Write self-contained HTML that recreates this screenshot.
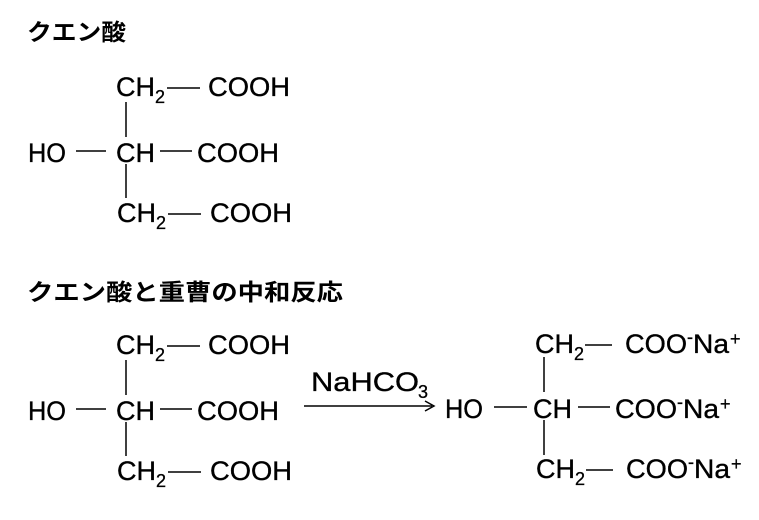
<!DOCTYPE html>
<html><head><meta charset="utf-8"><style>
html,body{margin:0;padding:0;background:#fff;}
svg{display:block;}
text{font-family:"Liberation Sans","Noto Sans CJK JP",sans-serif;fill:#000;}
.t{font-weight:bold;font-size:23px;}
.m{font-size:27px;stroke:#000;stroke-width:0.35px;}
.s{font-size:18px;stroke:#000;stroke-width:0.3px;}
</style></head><body>
<svg width="759" height="520" viewBox="0 0 759 520" xmlns="http://www.w3.org/2000/svg">
<text class="t" x="27" y="40" textLength="99" lengthAdjust="spacingAndGlyphs">クエン酸</text>
<text class="t" x="27" y="300" textLength="316" lengthAdjust="spacingAndGlyphs">クエン酸と重曹の中和反応</text>

<g id="a">
<text class="m" x="116" y="96" textLength="39" lengthAdjust="spacingAndGlyphs">CH</text>
<text class="s" x="155" y="103">2</text>
<line x1="167" y1="88" x2="200" y2="88" stroke="#000" stroke-width="1.5"/>
<text class="m" x="208" y="96" textLength="82" lengthAdjust="spacingAndGlyphs">COOH</text>
<line x1="126" y1="102" x2="126" y2="137" stroke="#000" stroke-width="1.5"/>
<text class="m" x="28" y="162" textLength="38" lengthAdjust="spacingAndGlyphs">HO</text>
<line x1="76" y1="151" x2="106" y2="151" stroke="#000" stroke-width="1.5"/>
<text class="m" x="116" y="162" textLength="39" lengthAdjust="spacingAndGlyphs">CH</text>
<line x1="160" y1="151" x2="192" y2="151" stroke="#000" stroke-width="1.5"/>
<text class="m" x="197" y="162" textLength="82" lengthAdjust="spacingAndGlyphs">COOH</text>
<line x1="126" y1="164" x2="126" y2="198" stroke="#000" stroke-width="1.5"/>
<text class="m" x="117" y="222" textLength="39" lengthAdjust="spacingAndGlyphs">CH</text>
<text class="s" x="156" y="229">2</text>
<line x1="168" y1="214" x2="201" y2="214" stroke="#000" stroke-width="1.5"/>
<text class="m" x="210" y="222" textLength="82" lengthAdjust="spacingAndGlyphs">COOH</text>
</g>
<use href="#a" transform="translate(0,258)"/>

<text class="m" x="311" y="391" textLength="108" lengthAdjust="spacingAndGlyphs">NaHCO</text>
<text class="s" x="418" y="398">3</text>
<line x1="304" y1="406" x2="432" y2="406" stroke="#000" stroke-width="1.5"/>
<path d="M425,401 L434,406 L425,411" fill="none" stroke="#000" stroke-width="1.5"/>

<text class="m" x="535" y="353" textLength="39" lengthAdjust="spacingAndGlyphs">CH</text>
<text class="s" x="574" y="360">2</text>
<line x1="585" y1="345" x2="612" y2="345" stroke="#000" stroke-width="1.5"/>
<text class="m" x="625" y="353" textLength="62" lengthAdjust="spacingAndGlyphs">COO</text>
<text class="s" x="687" y="343">-</text>
<text class="m" x="693" y="353" textLength="36" lengthAdjust="spacingAndGlyphs">Na</text>
<text class="s" x="730" y="345">+</text>
<line x1="544" y1="357" x2="544" y2="392" stroke="#000" stroke-width="1.5"/>
<text class="m" x="445" y="418" textLength="38" lengthAdjust="spacingAndGlyphs">HO</text>
<line x1="494" y1="407" x2="527" y2="407" stroke="#000" stroke-width="1.5"/>
<text class="m" x="533" y="418" textLength="39" lengthAdjust="spacingAndGlyphs">CH</text>
<line x1="578" y1="407" x2="610" y2="407" stroke="#000" stroke-width="1.5"/>
<text class="m" x="615" y="418" textLength="62" lengthAdjust="spacingAndGlyphs">COO</text>
<text class="s" x="677" y="408">-</text>
<text class="m" x="683" y="418" textLength="36" lengthAdjust="spacingAndGlyphs">Na</text>
<text class="s" x="720" y="410">+</text>
<line x1="544" y1="420" x2="544" y2="455" stroke="#000" stroke-width="1.5"/>
<text class="m" x="536" y="478" textLength="39" lengthAdjust="spacingAndGlyphs">CH</text>
<text class="s" x="575" y="485">2</text>
<line x1="586" y1="470" x2="613" y2="470" stroke="#000" stroke-width="1.5"/>
<text class="m" x="626" y="478" textLength="62" lengthAdjust="spacingAndGlyphs">COO</text>
<text class="s" x="688" y="468">-</text>
<text class="m" x="694" y="478" textLength="36" lengthAdjust="spacingAndGlyphs">Na</text>
<text class="s" x="731" y="470">+</text>
</svg>
</body></html>
